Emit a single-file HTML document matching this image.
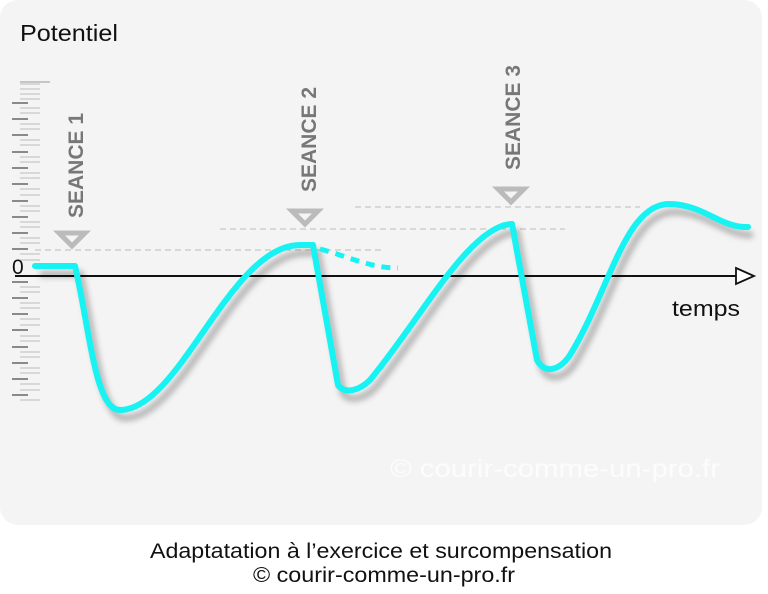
<!DOCTYPE html>
<html><head><meta charset="utf-8"><style>
body{margin:0;background:#fff;width:768px;height:589px;overflow:hidden;font-family:"Liberation Sans",sans-serif}
</style></head><body>
<svg width="768" height="589" viewBox="0 0 768 589" xmlns="http://www.w3.org/2000/svg">
<defs><filter id="sh" x="-10%" y="-10%" width="120%" height="130%"><feGaussianBlur stdDeviation="3"/></filter></defs>
<rect x="0" y="0" width="762" height="525" rx="18" fill="#f4f4f4"/>
<text x="20" y="41" font-size="23" fill="#111" textLength="98" lengthAdjust="spacingAndGlyphs">Potentiel</text>
<g stroke="#999" stroke-width="1">
<line x1="20" y1="82" x2="50" y2="82"/>
</g>
<g stroke="#bbb" stroke-width="1" stroke-dasharray="6,4">
<line x1="35" y1="250" x2="385" y2="250"/>
<line x1="220" y1="229" x2="565" y2="229"/>
<line x1="355" y1="207" x2="640" y2="207"/>
</g>
<g fill="none" stroke="#bbb" stroke-width="5" stroke-linejoin="miter">
<polygon points="59,233 85,233 72,246"/>
<polygon points="292,211 318,211 305,224"/>
<polygon points="498,189 524,189 511,202"/>
</g>
<g font-size="21" font-weight="bold" fill="#777" font-family="'Liberation Sans Narrow','Liberation Sans',sans-serif">
<text transform="translate(83,218) rotate(-90)">SEANCE 1</text>
<text transform="translate(316,192) rotate(-90)">SEANCE 2</text>
<text transform="translate(520,170) rotate(-90)">SEANCE 3</text>
</g>
<line x1="15" y1="276" x2="738" y2="276" stroke="#111" stroke-width="2"/>
<polygon points="736,268 754,276 736,284" fill="#fff" stroke="#111" stroke-width="1.8"/>
<text x="12" y="274" font-size="21" fill="#111">0</text>
<text x="672" y="316" font-size="22" fill="#111" textLength="68" lengthAdjust="spacingAndGlyphs">temps</text>
<path d="M35,266 L75,266 C90,330 95,410 120,410 C180,410 230,245 300,245 L313,245 L338,385 C345,395 360,390 370,380 C420,320 470,225 512,224 L537,360 C545,375 560,370 570,355 C610,290 625,203 670,204 C705,205 720,228 748,227" fill="none" stroke="#000" stroke-opacity="0.25" stroke-width="7" filter="url(#sh)" transform="translate(5,8)"/>
<path d="M35,266 L75,266 C90,330 95,410 120,410 C180,410 230,245 300,245 L313,245 L338,385 C345,395 360,390 370,380 C420,320 470,225 512,224 L537,360 C545,375 560,370 570,355 C610,290 625,203 670,204 C705,205 720,228 748,227" fill="none" stroke="#17f2f2" stroke-width="6" stroke-linecap="round" stroke-linejoin="round"/>
<path d="M320,249 C350,257 370,268 398,268" fill="none" stroke="#17f2f2" stroke-width="5" stroke-dasharray="9,7"/>
<text x="390" y="477" font-size="25" fill="#fff" opacity="0.8" textLength="330" lengthAdjust="spacingAndGlyphs">© courir-comme-un-pro.fr</text>
<text x="150" y="558" font-size="21" fill="#111" textLength="462" lengthAdjust="spacingAndGlyphs">Adaptatation à l’exercice et surcompensation</text>
<text x="253" y="582" font-size="21" fill="#111" textLength="262" lengthAdjust="spacingAndGlyphs">© courir-comme-un-pro.fr</text>
<g stroke="#666" stroke-width="1.5">
<line x1="12" y1="103" x2="28" y2="103"/><line x1="12" y1="119" x2="28" y2="119"/><line x1="12" y1="135" x2="28" y2="135"/><line x1="12" y1="152" x2="28" y2="152"/><line x1="12" y1="168" x2="28" y2="168"/><line x1="12" y1="184" x2="28" y2="184"/><line x1="12" y1="201" x2="28" y2="201"/><line x1="12" y1="217" x2="28" y2="217"/><line x1="12" y1="233" x2="28" y2="233"/><line x1="12" y1="249" x2="28" y2="249"/>
<line x1="12" y1="282" x2="28" y2="282"/><line x1="12" y1="298" x2="28" y2="298"/><line x1="12" y1="314" x2="28" y2="314"/><line x1="12" y1="330" x2="28" y2="330"/><line x1="12" y1="347" x2="28" y2="347"/><line x1="12" y1="363" x2="28" y2="363"/><line x1="12" y1="379" x2="28" y2="379"/><line x1="12" y1="395" x2="28" y2="395"/>
</g>
<g stroke="#bbb" stroke-width="1">
<path d="M20,84H40M20,89H40M20,94H40M20,99H40M20,108H40M20,113H40M20,124H40M20,129H40M20,140H40M20,145H40M20,157H40M20,162H40M20,173H40M20,178H40M20,189H40M20,195H40M20,206H40M20,211H40M20,222H40M20,227H40M20,238H40M20,243H40M20,254H40M20,260H40M20,287H40M20,292H40M20,303H40M20,308H40M20,319H40M20,325H40M20,336H40M20,341H40M20,352H40M20,357H40M20,368H40M20,373H40M20,384H40M20,390H40M20,400H40"/>
</g>
</svg>
</body></html>
